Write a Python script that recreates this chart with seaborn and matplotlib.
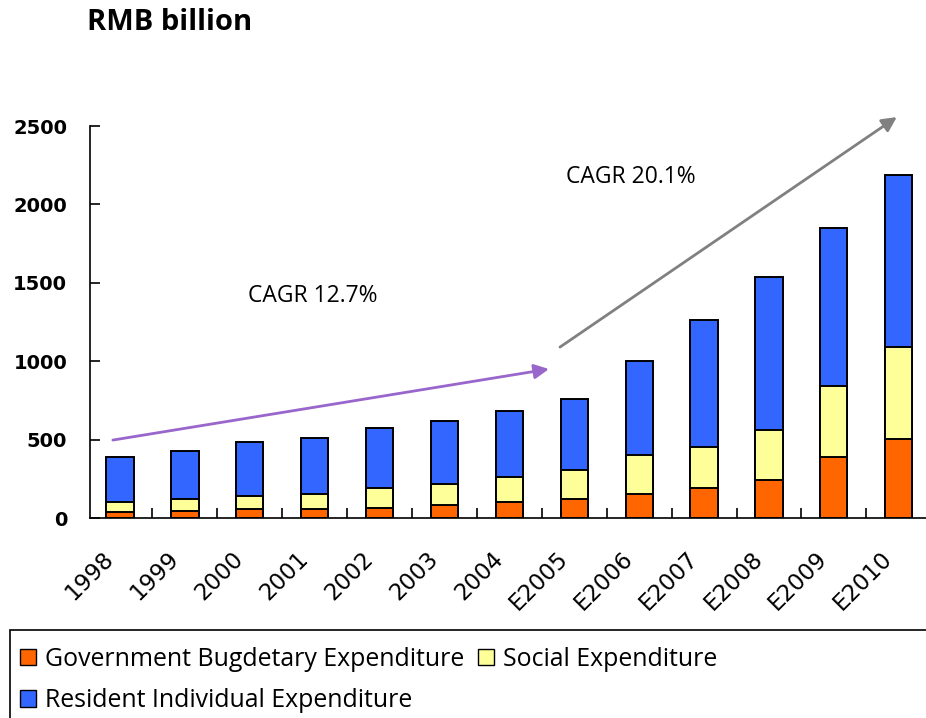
import matplotlib
matplotlib.use("Agg")
import matplotlib.pyplot as plt
import matplotlib.transforms as mtransforms
from matplotlib.patches import Patch, Rectangle
import numpy as np
import pandas as pd
import seaborn as sns

# Healthcare expenditure by source, RMB billion
years = ["1998", "1999", "2000", "2001", "2002", "2003", "2004",
         "E2005", "E2006", "E2007", "E2008", "E2009", "E2010"]
government = [36, 47, 55, 55, 66, 83, 104, 123, 153, 193, 242, 387, 504]
social = [66, 76, 87, 96, 125, 136, 157, 185, 247, 262, 321, 457, 585]
resident = [285, 306, 345, 361, 381, 402, 421, 451, 603, 808, 976, 1006, 1101]

series_names = ["Government Bugdetary Expenditure", "Social Expenditure",
                "Resident Individual Expenditure"]
colors = ["#FF6600", "#FFFF99", "#3366FF"]

df = pd.DataFrame({"year": years, "gov": government,
                   "social": social, "resident": resident})
df["gov_social"] = df["gov"] + df["social"]
df["total"] = df["gov_social"] + df["resident"]

sns.set_style("white")
plt.rcParams.update({"text.color": "black", "xtick.color": "black",
                     "ytick.color": "black", "axes.labelcolor": "black"})
W, H = 926, 718
fig = plt.figure(figsize=(W / 100, H / 100), dpi=100)
ax = fig.add_axes([90 / W, 200 / H, 836 / W, 392 / H])

# stacked bars drawn as overlapping cumulative totals
for col, c in zip(["total", "gov_social", "gov"], colors[::-1]):
    sns.barplot(data=df, x="year", y=col, color=c, width=0.42,
                edgecolor="black", linewidth=1.4, saturation=1, ax=ax)

ax.set_xlim(-0.462, 12.42)
ax.set_ylim(0, 2500)
ax.set_xlabel("")
ax.set_ylabel("")

for s in ["top", "right"]:
    ax.spines[s].set_visible(False)
for s in ["left", "bottom"]:
    ax.spines[s].set_color("black")
    ax.spines[s].set_linewidth(1.2)

ax.set_yticks([0, 500, 1000, 1500, 2000, 2500])
ax.set_yticklabels(["0", "500", "1000", "1500", "2000", "2500"],
                   fontsize=14, fontweight="bold", family="DejaVu Sans",
                   color="black")
ax.tick_params(axis="y", direction="in", length=7, width=1.2, pad=16.5,
               left=True, colors="black")

ax.set_xticks(range(len(years)))
ax.set_xticklabels(years, rotation=45, ha="right", rotation_mode="anchor",
                   fontsize=16.5, family="DejaVu Sans", color="black")
ax.tick_params(axis="x", which="major", length=0, pad=10)
shift = mtransforms.ScaledTranslation(-13 / 72, -11 / 72, fig.dpi_scale_trans)
for lab in ax.get_xticklabels():
    lab.set_transform(lab.get_transform() + shift)
ax.set_xticks(np.arange(0.5, len(years) - 0.5, 1.0), minor=True)
ax.tick_params(axis="x", which="minor", direction="in", length=7, width=1.2,
               bottom=True, colors="black")

# growth-rate arrows
ax.annotate("", xy=(6.61, 950), xytext=(-0.11, 497),
            arrowprops=dict(arrowstyle="-|>", color="#9966CC", lw=2,
                            mutation_scale=22, shrinkA=0, shrinkB=0),
            annotation_clip=False)
ax.annotate("", xy=(11.97, 2557), xytext=(6.78, 1090),
            arrowprops=dict(arrowstyle="-|>", color="#808080", lw=2,
                            mutation_scale=22, shrinkA=0, shrinkB=0),
            annotation_clip=False)
ax.text(2.97, 1415, "CAGR 12.7%", fontsize=16.5, family="Open Sans",
        ha="center", va="center", color="black")
ax.text(7.87, 2175, "CAGR 20.1%", fontsize=16.5, family="Open Sans",
        ha="center", va="center", color="black")

fig.text(87 / W, 1 - 22 / H, "RMB billion", fontsize=21, fontweight="bold",
         family="Open Sans", ha="left", va="center", color="black")

# legend box along the bottom
fig.patches.append(Rectangle((10 / W, -0.01), 1.0, (718 - 630) / H + 0.01,
                             transform=fig.transFigure, facecolor="white",
                             edgecolor="black", linewidth=1.2))
handles = [Patch(facecolor=colors[i], edgecolor="black", linewidth=1.0,
                 label=series_names[i]) for i in (0, 2, 1)]
leg = fig.legend(handles=handles, loc="upper left",
                 bbox_to_anchor=(20 / W, 1 - 647 / H), ncol=2, frameon=False,
                 prop={"family": "Open Sans", "size": 17.9},
                 handlelength=0.64, handleheight=0.64, handletextpad=0.36,
                 columnspacing=0.55, labelspacing=0.66, borderpad=0,
                 borderaxespad=0)
for t in leg.get_texts():
    t.set_color("black")

fig.savefig("out.png", dpi=100)
